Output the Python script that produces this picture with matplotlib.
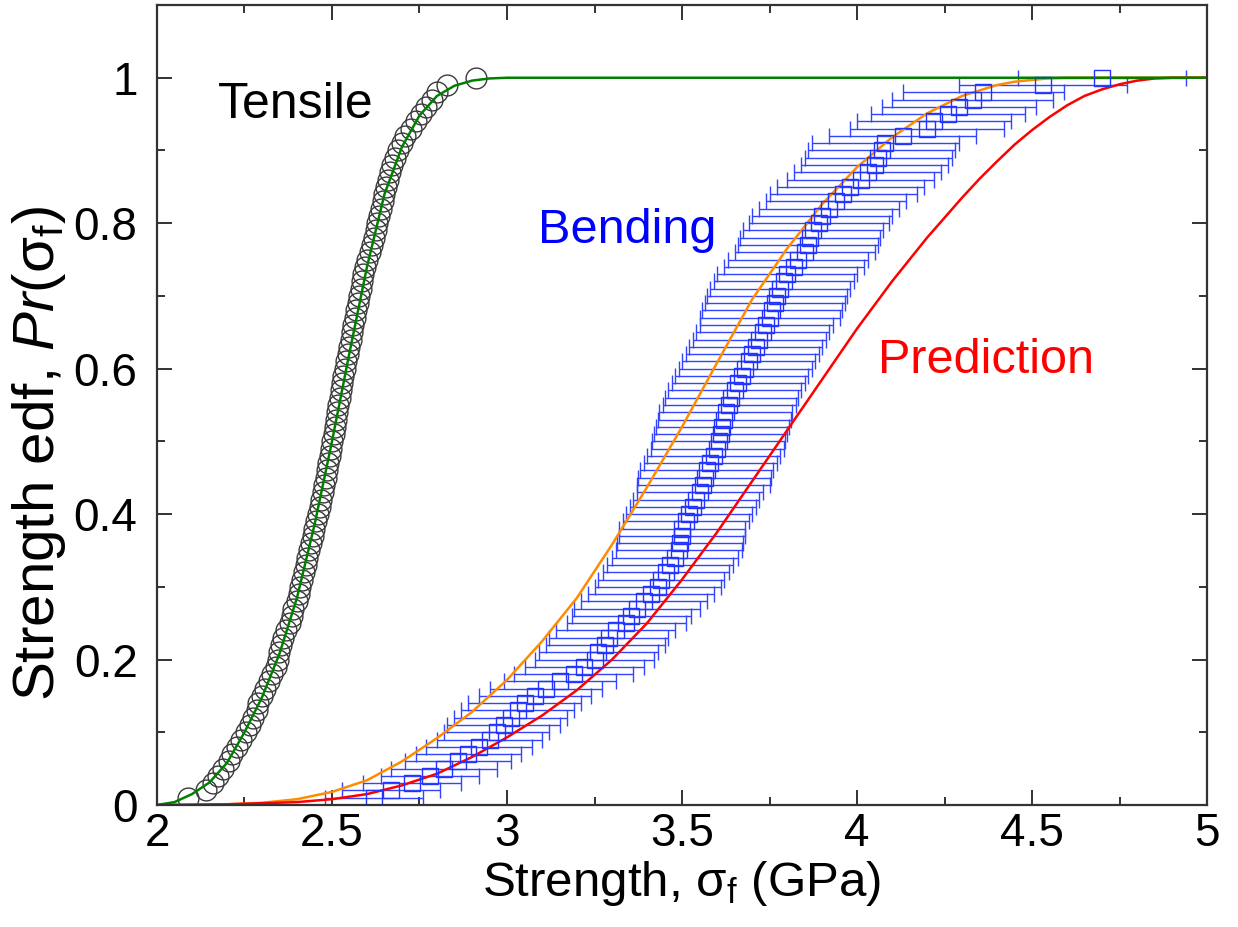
import numpy as np
import matplotlib
matplotlib.use('Agg')
import matplotlib.pyplot as plt
from matplotlib.ticker import MultipleLocator

plt.rcParams['font.family'] = ['Liberation Sans', 'DejaVu Sans']
plt.rcParams['mathtext.fontset'] = 'custom'
plt.rcParams['mathtext.rm'] = 'Liberation Sans'
plt.rcParams['mathtext.it'] = 'Liberation Sans:italic'

# edf levels (rank / n), n = 100 for both data sets
edf = [0.01, 0.02, 0.03, 0.04, 0.05, 0.06, 0.07, 0.08, 0.09, 0.10,
       0.11, 0.12, 0.13, 0.14, 0.15, 0.16, 0.17, 0.18, 0.19, 0.20,
       0.21, 0.22, 0.23, 0.24, 0.25, 0.26, 0.27, 0.28, 0.29, 0.30,
       0.31, 0.32, 0.33, 0.34, 0.35, 0.36, 0.37, 0.38, 0.39, 0.40,
       0.41, 0.42, 0.43, 0.44, 0.45, 0.46, 0.47, 0.48, 0.49, 0.50,
       0.51, 0.52, 0.53, 0.54, 0.55, 0.56, 0.57, 0.58, 0.59, 0.60,
       0.61, 0.62, 0.63, 0.64, 0.65, 0.66, 0.67, 0.68, 0.69, 0.70,
       0.71, 0.72, 0.73, 0.74, 0.75, 0.76, 0.77, 0.78, 0.79, 0.80,
       0.81, 0.82, 0.83, 0.84, 0.85, 0.86, 0.87, 0.88, 0.89, 0.90,
       0.91, 0.92, 0.93, 0.94, 0.95, 0.96, 0.97, 0.98, 0.99, 1.00]

# tensile strengths (GPa), sorted
tensile_x = [2.09, 2.14, 2.16, 2.175, 2.19, 2.205, 2.215, 2.23, 2.24, 2.255,
             2.265, 2.275, 2.285, 2.29, 2.30, 2.31, 2.32, 2.33, 2.34, 2.345,
             2.35, 2.355, 2.36, 2.37, 2.38, 2.385, 2.39, 2.40, 2.405, 2.41,
             2.415, 2.42, 2.425, 2.43, 2.435, 2.44, 2.445, 2.45, 2.455, 2.46,
             2.465, 2.47, 2.475, 2.478, 2.482, 2.486, 2.49, 2.494, 2.498, 2.50,
             2.505, 2.508, 2.512, 2.515, 2.518, 2.522, 2.525, 2.528, 2.532, 2.536,
             2.54, 2.545, 2.55, 2.553, 2.557, 2.56, 2.565, 2.57, 2.574, 2.578,
             2.582, 2.586, 2.59, 2.595, 2.60, 2.61, 2.615, 2.62, 2.625, 2.63,
             2.635, 2.64, 2.645, 2.65, 2.655, 2.66, 2.665, 2.672, 2.68, 2.69,
             2.70, 2.71, 2.725, 2.74, 2.755, 2.77, 2.785, 2.80, 2.83, 2.91]

# bending strengths (GPa), sorted, with +/- uncertainty
bending_x = [2.62, 2.67, 2.73, 2.78, 2.82, 2.86, 2.89, 2.92, 2.95, 2.97,
             2.99, 3.01, 3.03, 3.05, 3.08, 3.11, 3.15, 3.19, 3.22, 3.25,
             3.26, 3.28, 3.29, 3.31, 3.34, 3.355, 3.37, 3.39, 3.41, 3.43,
             3.44, 3.455, 3.465, 3.48, 3.49, 3.495, 3.50, 3.50, 3.51, 3.52,
             3.53, 3.54, 3.55, 3.56, 3.565, 3.57, 3.58, 3.59, 3.60, 3.605,
             3.61, 3.615, 3.62, 3.625, 3.635, 3.64, 3.65, 3.66, 3.67, 3.68,
             3.69, 3.70, 3.71, 3.72, 3.73, 3.74, 3.75, 3.757, 3.765, 3.77,
             3.78, 3.79, 3.80, 3.82, 3.83, 3.85, 3.86, 3.865, 3.875, 3.89,
             3.90, 3.92, 3.94, 3.96, 3.98, 4.01, 4.03, 4.05, 4.06, 4.07,
             4.08, 4.13, 4.20, 4.22, 4.26, 4.29, 4.33, 4.36, 4.53, 4.70]
bending_err = [0.14, 0.14, 0.14, 0.14, 0.15, 0.15, 0.15, 0.15, 0.15, 0.15,
               0.16, 0.16, 0.16, 0.16, 0.16, 0.16, 0.16, 0.17, 0.17, 0.17,
               0.17, 0.17, 0.17, 0.17, 0.17, 0.17, 0.18, 0.18, 0.18, 0.18,
               0.18, 0.18, 0.18, 0.18, 0.18, 0.18, 0.18, 0.18, 0.18, 0.18,
               0.18, 0.18, 0.18, 0.19, 0.19, 0.19, 0.19, 0.19, 0.19, 0.19,
               0.19, 0.19, 0.19, 0.19, 0.19, 0.19, 0.19, 0.19, 0.19, 0.19,
               0.19, 0.19, 0.19, 0.19, 0.19, 0.19, 0.20, 0.20, 0.20, 0.20,
               0.20, 0.20, 0.20, 0.20, 0.20, 0.20, 0.20, 0.20, 0.20, 0.20,
               0.20, 0.20, 0.20, 0.21, 0.21, 0.21, 0.21, 0.21, 0.21, 0.21,
               0.21, 0.21, 0.22, 0.22, 0.22, 0.22, 0.23, 0.23, 0.24, 0.24]

# tensile fit (green)
green_x = [2.00, 2.05, 2.10, 2.15, 2.20, 2.25, 2.30, 2.35, 2.40, 2.45,
           2.50, 2.55, 2.60, 2.65, 2.70, 2.75, 2.80, 2.85, 2.90, 2.95,
           3.00, 5.00]
green_y = [0.0, 0.004, 0.015, 0.031, 0.058, 0.10, 0.148, 0.208, 0.285, 0.385,
           0.50, 0.622, 0.74, 0.84, 0.905, 0.948, 0.975, 0.989, 0.996, 0.999,
           1.0, 1.0]

# bending fit (orange)
orange_x = [2.0, 2.2, 2.3, 2.4, 2.5, 2.6, 2.7, 2.8, 2.9, 3.0, 3.1, 3.2, 3.3, 3.4,
            3.5, 3.6, 3.7, 3.8, 3.9, 4.0, 4.1, 4.2, 4.3, 4.4, 4.45, 4.5, 4.55,
            4.6, 5.0]
orange_y = [0.0, 0.001, 0.003, 0.008, 0.018, 0.034, 0.060, 0.092, 0.128, 0.172,
            0.225, 0.285, 0.358, 0.437, 0.52, 0.608, 0.695, 0.765, 0.826, 0.877,
            0.918, 0.951, 0.975, 0.99, 0.9945, 0.997, 0.9992, 1.0, 1.0]

# prediction (red)
red_x = [2.0, 2.2, 2.4, 2.5, 2.6, 2.7, 2.8, 2.9, 3.0, 3.1, 3.2, 3.3, 3.4, 3.5, 3.6,
         3.7, 3.8, 3.9, 4.0, 4.1, 4.2, 4.3, 4.35, 4.4, 4.45, 4.5, 4.55, 4.6,
         4.65, 4.7, 4.75, 4.8, 4.85, 4.9, 5.0]
red_y = [0.0, 0.001, 0.004, 0.008, 0.015, 0.027, 0.043, 0.066, 0.093, 0.123,
         0.158, 0.20, 0.25, 0.31, 0.375, 0.445, 0.515, 0.585, 0.655, 0.72,
         0.78, 0.835, 0.861, 0.885, 0.908, 0.928, 0.946, 0.962, 0.975, 0.984,
         0.991, 0.996, 0.999, 1.0, 1.0]

xticks = [2, 2.5, 3, 3.5, 4, 4.5, 5]
xticklabels = ['2', '2.5', '3', '3.5', '4', '4.5', '5']
yticks = [0, 0.2, 0.4, 0.6, 0.8, 1]
yticklabels = ['0', '0.2', '0.4', '0.6', '0.8', '1']

fig = plt.figure(figsize=(12.38, 9.27), dpi=100)
ax = fig.add_axes([0.1268, 0.1316, 0.8482, 0.863])

ax.plot(tensile_x, edf, 'o', ms=15, mfc='none', mec='#3a3a3a', mew=1.0)
ax.errorbar(bending_x, edf, xerr=bending_err, fmt='s', ms=12, mfc='none',
            mec='#2233ff', mew=1.0, ecolor='#3344ff', elinewidth=1.0,
            capsize=5.5, capthick=1.0)

ax.plot(orange_x, orange_y, color='#ff8c00', lw=1.8)
ax.plot(red_x, red_y, color='#ff0000', lw=1.8)
ax.plot(green_x, green_y, color='#008000', lw=1.8)

ax.text(2.174, 0.945, 'Tensile', fontsize=36, color='black')
ax.text(3.089, 0.773, 'Bending', fontsize=35, color='#0000ff')
ax.text(4.06, 0.594, 'Prediction', fontsize=35, color='#ff0000')

ax.set_xlim(2, 5)
ax.set_ylim(0, 1.1)
ax.set_xticks(xticks)
ax.set_xticklabels(xticklabels)
ax.set_yticks(yticks)
ax.set_yticklabels(yticklabels)
ax.xaxis.set_minor_locator(MultipleLocator(0.25))
ax.yaxis.set_minor_locator(MultipleLocator(0.1))
ax.tick_params(which='both', direction='in', top=True, right=True,
               width=1.3, color='#222222')
ax.tick_params(which='major', length=11, labelsize=33)
ax.tick_params(which='minor', length=6)
ax.tick_params(axis='x', pad=5)
ax.tick_params(axis='y', pad=14)
for s in ax.spines.values():
    s.set_linewidth(1.6)
    s.set_color('#333333')

ax.set_xlabel(r'Strength, σ$_\mathregular{f}$ (GPa)', fontsize=35.5, labelpad=2)
ax.set_ylabel(r'Strength edf, $\mathit{Pr}$(σ$_\mathregular{f}$)', fontsize=42)
ax.yaxis.set_label_coords(-0.085, 0.44)

fig.savefig('out.png', dpi=100)
